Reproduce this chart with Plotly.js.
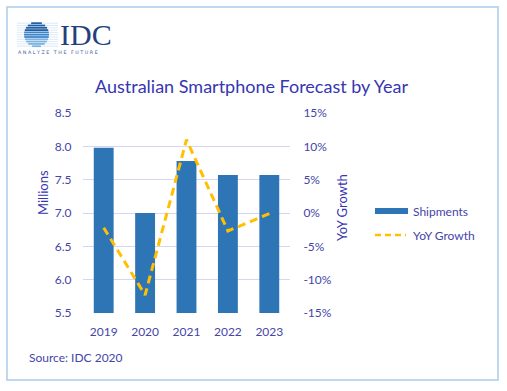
<!DOCTYPE html>
<html>
<head>
<meta charset="utf-8">
<script src="https://cdn.plot.ly/plotly-3.0.1.min.js"></script>
<style>html,body{margin:0;padding:0;background:#fff;}#chart{width:507px;height:391px;}</style>
</head>
<body>
<div id="chart"></div>
<script>
// ---- data ----
var years = ['2019', '2020', '2021', '2022', '2023'];
var shipments = [7.98, 7.0, 7.78, 7.57, 7.57];      // millions
var yoyGrowth = [-2.2, -12.3, 11.0, -2.7, -0.1];     // percent
var leftTicks = [5.5, 6.0, 6.5, 7.0, 7.5, 8.0, 8.5];
var rightTicks = [-15, -10, -5, 0, 5, 10, 15];
var rightTickText = ['-15%', '-10%', '-5%', '0%', '5%', '10%', '15%'];

// ---- layout helpers (pixel -> paper) ----
var W = 507, H = 391, ML = 83, MR = 217, MT = 113, MB = 78;
var PW = W - ML - MR, PH = H - MT - MB;
function px(x) { return (x - ML) / PW; }
function py(y) { return (H - MB - y) / PH; }

var textColor = '#4545A8';
var titleColor = '#3636B2';
var barColor = '#2E75B6';
var lineColor = '#FFC000';
var FONT = 'Lato, "Open Sans", sans-serif';

var traces = [
  {
    type: 'bar', name: 'Shipments', x: years, y: shipments,
    marker: { color: barColor }, yaxis: 'y', showlegend: false, hoverinfo: 'x+y'
  },
  {
    type: 'scatter', mode: 'lines', name: 'YoY Growth', x: years, y: yoyGrowth,
    line: { color: lineColor, width: 3, dash: '8px,5px' }, yaxis: 'y2', showlegend: false
  }
];

var shapes = [];
var annotations = [];

// frame
shapes.push({ type: 'rect', xref: 'paper', yref: 'paper', x0: px(7), x1: px(498), y0: py(7), y1: py(380),
  line: { color: '#A9CBEA', width: 1.5 }, fillcolor: 'rgba(0,0,0,0)', layer: 'below' });

// IDC logo sphere (stripes)
var cx = 36.5, cy = 34.5, r = 12.5;
for (var i = 0; i < 11; i++) {
  var yy = cy - r + 1.2 + i * 2.3;
  var dy = yy - cy;
  var hw = Math.sqrt(Math.max(0, r * r - dy * dy));
  var col = i < 4 ? '#1F5FA8' : (i < 7 ? '#3F86C8' : '#7FB3E0');
  shapes.push({ type: 'line', xref: 'paper', yref: 'paper', x0: px(17), x1: px(58), y0: py(yy), y1: py(yy),
    line: { color: '#C6DCF0', width: 0.6 } });
  shapes.push({ type: 'line', xref: 'paper', yref: 'paper', x0: px(cx - hw), x1: px(cx + hw), y0: py(yy), y1: py(yy),
    line: { color: col, width: 1.8 } });
}
annotations.push({ xref: 'paper', yref: 'paper', x: px(59), y: py(34), xanchor: 'left', yanchor: 'middle',
  text: 'IDC', showarrow: false, borderpad: 0,
  font: { family: '"Liberation Serif", "DejaVu Serif", serif', size: 30, color: '#23407C' } });
annotations.push({ xref: 'paper', yref: 'paper', x: px(17), y: py(53), xanchor: 'left', yanchor: 'middle',
  text: 'A N A L Y Z E   T H E   F U T U R E', showarrow: false, borderpad: 0,
  font: { family: '"DejaVu Sans", sans-serif', size: 4.8, color: '#3C5A96' } });

// title
annotations.push({ xref: 'paper', yref: 'paper', x: px(252), y: py(86), xanchor: 'center', yanchor: 'middle',
  text: 'Australian Smartphone Forecast by Year', showarrow: false,
  font: { family: FONT, size: 18, color: titleColor } });

// axis titles
annotations.push({ xref: 'paper', yref: 'paper', x: px(43), y: py(193), xanchor: 'center', yanchor: 'middle',
  text: 'Millions', textangle: -90, showarrow: false, font: { family: FONT, size: 13, color: titleColor } });
annotations.push({ xref: 'paper', yref: 'paper', x: px(342), y: py(208), xanchor: 'center', yanchor: 'middle',
  text: 'YoY Growth', textangle: -90, showarrow: false, font: { family: FONT, size: 13, color: titleColor } });

// custom legend
shapes.push({ type: 'rect', xref: 'paper', yref: 'paper', x0: px(375), x1: px(408), y0: py(208), y1: py(214),
  line: { width: 0 }, fillcolor: barColor });
shapes.push({ type: 'line', xref: 'paper', yref: 'paper', x0: px(375), x1: px(406), y0: py(235), y1: py(235),
  line: { color: lineColor, width: 2.5, dash: '6px,4px' } });
annotations.push({ xref: 'paper', yref: 'paper', x: px(411), y: py(211), xanchor: 'left', yanchor: 'middle',
  text: 'Shipments', showarrow: false, font: { family: FONT, size: 12, color: textColor } });
annotations.push({ xref: 'paper', yref: 'paper', x: px(411), y: py(235), xanchor: 'left', yanchor: 'middle',
  text: 'YoY Growth', showarrow: false, font: { family: FONT, size: 12, color: textColor } });

// source
annotations.push({ xref: 'paper', yref: 'paper', x: px(27), y: py(357), xanchor: 'left', yanchor: 'middle',
  text: 'Source: IDC 2020', showarrow: false, font: { family: FONT, size: 12, color: textColor } });

var layout = {
  width: W, height: H,
  margin: { l: ML, r: MR, t: MT, b: MB, pad: 0 },
  paper_bgcolor: '#fff', plot_bgcolor: '#fff',
  showlegend: false,
  bargap: 0.52,
  font: { family: FONT, size: 12, color: textColor },
  xaxis: {
    type: 'category', categoryarray: years, showgrid: false, zeroline: false, showline: false,
    ticks: 'outside', ticklen: 8, tickcolor: 'rgba(0,0,0,0)', tickfont: { size: 12, color: textColor },
    fixedrange: true
  },
  yaxis: {
    range: [5.5, 8.5], tickmode: 'array', tickvals: leftTicks, tickformat: '.1f', showgrid: true, gridcolor: '#D6D6F2', gridwidth: 1,
    zeroline: false, showline: false, ticks: 'outside', ticklen: 8, tickcolor: 'rgba(0,0,0,0)',
    tickfont: { size: 12, color: textColor }, fixedrange: true
  },
  yaxis2: {
    range: [-15, 15], tickmode: 'array', tickvals: rightTicks, ticktext: rightTickText, overlaying: 'y', side: 'right',
    showgrid: false, zeroline: false, showline: false, ticks: 'outside', ticklen: 10, tickcolor: 'rgba(0,0,0,0)',
    tickfont: { size: 12, color: textColor }, fixedrange: true
  },
  shapes: shapes,
  annotations: annotations
};

Plotly.newPlot('chart', traces, layout, { displayModeBar: false, staticPlot: true });
</script>
</body>
</html>
